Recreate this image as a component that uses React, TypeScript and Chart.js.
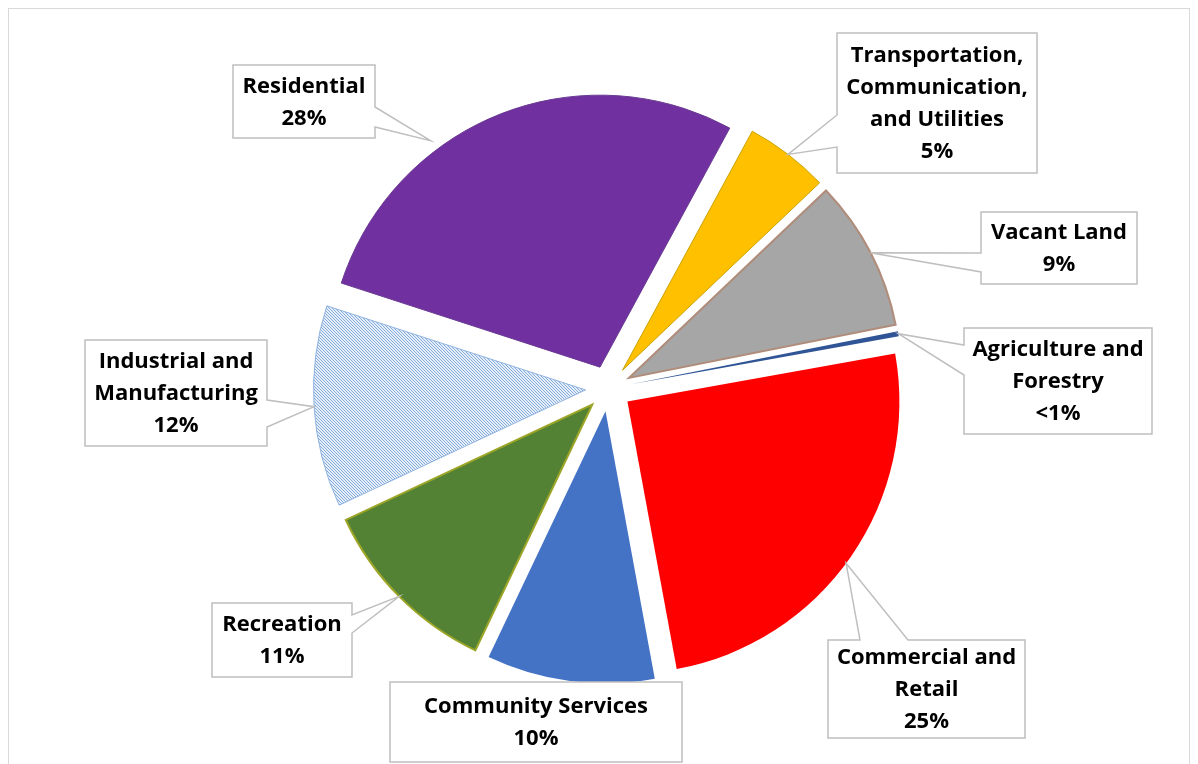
import React, { useEffect, useRef } from 'react';
import { Chart, registerables, ArcElement } from 'chart.js';

Chart.register(...registerables);

// ---------------- data ----------------
const categories = [
  'Residential',
  'Transportation, Communication, and Utilities',
  'Vacant Land',
  'Agriculture and Forestry',
  'Commercial and Retail',
  'Community Services',
  'Recreation',
  'Industrial and Manufacturing',
];
const shares = [28, 5, 9, 0.3, 25, 10, 11, 12];
const shareLabels = ['28%', '5%', '9%', '<1%', '25%', '10%', '11%', '12%'];
const labelLines = [
  ['Residential'],
  ['Transportation,', 'Communication,', 'and Utilities'],
  ['Vacant Land'],
  ['Agriculture and', 'Forestry'],
  ['Commercial and', 'Retail'],
  ['Community Services'],
  ['Recreation'],
  ['Industrial and', 'Manufacturing'],
];

// ---------------- styles / layout ----------------
const solidColors = ['#7030a0', '#ffc000', '#a6a6a6', '#2f5597', '#ff0000', '#4472c4', '#548235', null];
const borderColors = ['#6a3a92', '#c9a200', '#b08c7a', '#2f5597', '#ff0000', '#4472c4', '#9ca526', '#8fb3e0'];
const borderWidths = [1, 1, 2, 0, 0, 0, 2, 1];

type Callout = { box: [number, number, number, number]; side: string; base: [number, number]; frac: number; rad: number };
const callouts: Callout[] = [
  { box: [233, 65, 142, 73], side: 'right', base: [107, 127], frac: 0.35, rad: 1.04 },
  { box: [837, 33, 200, 140], side: 'left', base: [115, 147], frac: 0.5, rad: 1.0 },
  { box: [981, 212, 156, 72], side: 'left', base: [253, 272], frac: 0.5, rad: 1.0 },
  { box: [964, 328, 188, 106], side: 'left', base: [345, 375], frac: 0.5, rad: 1.0 },
  { box: [828, 640, 197, 98], side: 'top', base: [860, 908], frac: 0.52, rad: 1.0 },
  { box: [390, 682, 292, 80], side: 'none', base: [0, 0], frac: 0.5, rad: 1.0 },
  { box: [212, 603, 140, 74], side: 'right', base: [615, 633], frac: 0.5, rad: 1.0 },
  { box: [85, 340, 182, 106], side: 'right', base: [400, 427], frac: 0.5, rad: 1.0 },
];

const FONT = 'bold 22px "Open Sans", Lato, sans-serif';
const LINE_H = 32;

function makeHatch(): CanvasPattern | string {
  const c = document.createElement('canvas');
  c.width = 3;
  c.height = 3;
  const g = c.getContext('2d');
  if (!g) return '#9dc3e6';
  g.fillStyle = '#e6eff9';
  g.fillRect(0, 0, 3, 3);
  g.fillStyle = '#86acdc';
  for (let i = 0; i < 3; i++) g.fillRect(i, i, 1, 1);
  const p = g.createPattern(c, 'repeat');
  return p || '#9dc3e6';
}

// Exploded slices: each slice is shifted outward along its mid-angle by `offset` pixels,
// keeping the radius given by the controller.
const arcProto: any = ArcElement.prototype;
arcProto.draw = function (ctx: CanvasRenderingContext2D) {
  const { x, y, startAngle, endAngle, outerRadius } = this.getProps(['x', 'y', 'startAngle', 'endAngle', 'outerRadius']);
  const o = this.options;
  const d = o.offset || 0;
  const mid = (startAngle + endAngle) / 2;
  const cx = x + Math.cos(mid) * d;
  const cy = y + Math.sin(mid) * d;
  ctx.save();
  ctx.beginPath();
  ctx.moveTo(cx, cy);
  ctx.arc(cx, cy, outerRadius, startAngle, endAngle);
  ctx.closePath();
  ctx.fillStyle = o.backgroundColor;
  ctx.fill();
  if (o.borderWidth) {
    ctx.lineWidth = o.borderWidth;
    ctx.strokeStyle = o.borderColor;
    ctx.lineJoin = 'miter';
    ctx.stroke();
  }
  ctx.restore();
};

function calloutPath(ctx: CanvasRenderingContext2D, c: Callout, tx: number, ty: number) {
  const [x, y, w, h] = c.box;
  const [a, b] = c.base;
  ctx.beginPath();
  ctx.moveTo(x, y);
  if (c.side === 'top') { ctx.lineTo(a, y); ctx.lineTo(tx, ty); ctx.lineTo(b, y); }
  ctx.lineTo(x + w, y);
  if (c.side === 'right') { ctx.lineTo(x + w, a); ctx.lineTo(tx, ty); ctx.lineTo(x + w, b); }
  ctx.lineTo(x + w, y + h);
  if (c.side === 'bottom') { ctx.lineTo(b, y + h); ctx.lineTo(tx, ty); ctx.lineTo(a, y + h); }
  ctx.lineTo(x, y + h);
  if (c.side === 'left') { ctx.lineTo(x, b); ctx.lineTo(tx, ty); ctx.lineTo(x, a); }
  ctx.closePath();
}

const calloutPlugin = {
  id: 'callouts',
  afterDatasetsDraw(chart: any) {
    const ctx: CanvasRenderingContext2D = chart.ctx;
    const meta = chart.getDatasetMeta(0);
    meta.data.forEach((arc: any, i: number) => {
      const c = callouts[i];
      if (!c) return;
      const { x, y, startAngle, endAngle, outerRadius } = arc.getProps(['x', 'y', 'startAngle', 'endAngle', 'outerRadius']);
      const d = arc.options.offset || 0;
      const mid = (startAngle + endAngle) / 2;
      const th = startAngle + (endAngle - startAngle) * c.frac;
      const tx = x + Math.cos(mid) * d + Math.cos(th) * outerRadius * c.rad;
      const ty = y + Math.sin(mid) * d + Math.sin(th) * outerRadius * c.rad;
      ctx.save();
      calloutPath(ctx, c, tx, ty);
      ctx.fillStyle = '#ffffff';
      ctx.fill();
      ctx.lineWidth = 1.5;
      ctx.strokeStyle = '#bfbfbf';
      ctx.lineJoin = 'miter';
      ctx.stroke();
      const lines = [...labelLines[i], shareLabels[i]];
      const [bx, by, bw, bh] = c.box;
      const cxm = bx + bw / 2;
      const cym = by + bh / 2;
      ctx.font = FONT;
      ctx.fillStyle = '#000000';
      ctx.textAlign = 'center';
      ctx.textBaseline = 'middle';
      lines.forEach((t, k) => {
        ctx.fillText(t, cxm, cym + 1 + (k - (lines.length - 1) / 2) * LINE_H);
      });
      ctx.restore();
    });
  },
};

export default function App() {
  const ref = useRef<HTMLCanvasElement | null>(null);
  useEffect(() => {
    if (!ref.current) return;
    const hatch = makeHatch();
    const colors = solidColors.map((c) => (c === null ? hatch : c));
    const chart = new Chart(ref.current, {
      type: 'pie',
      data: {
        labels: categories,
        datasets: [
          {
            data: shares,
            backgroundColor: colors as any,
            borderColor: borderColors,
            borderWidth: borderWidths,
            offset: 23,
            hoverOffset: 0,
            radius: 272,
          } as any,
        ],
      },
      options: {
        animation: false,
        responsive: false,
        devicePixelRatio: 1,
        rotation: 288,
        layout: { padding: { left: 19, top: 13, right: 0, bottom: 0 } },
        plugins: { legend: { display: false }, tooltip: { enabled: false } },
        events: [],
      } as any,
      plugins: [calloutPlugin],
    });
    return () => chart.destroy();
  }, []);
  return (
    <div style={{ position: 'fixed', left: 0, top: 0, width: 1198, height: 764, background: '#fff', overflow: 'hidden' }}>
      <div
        style={{
          position: 'absolute',
          left: 8,
          top: 8,
          width: 1182,
          height: 800,
          borderLeft: '1px solid #d9d9d9',
          borderTop: '1px solid #d9d9d9',
          borderRight: '1px solid #d9d9d9',
          boxSizing: 'border-box',
        }}
      />
      <canvas ref={ref} width={1198} height={764} style={{ position: 'absolute', left: 0, top: 0 }} />
    </div>
  );
}
